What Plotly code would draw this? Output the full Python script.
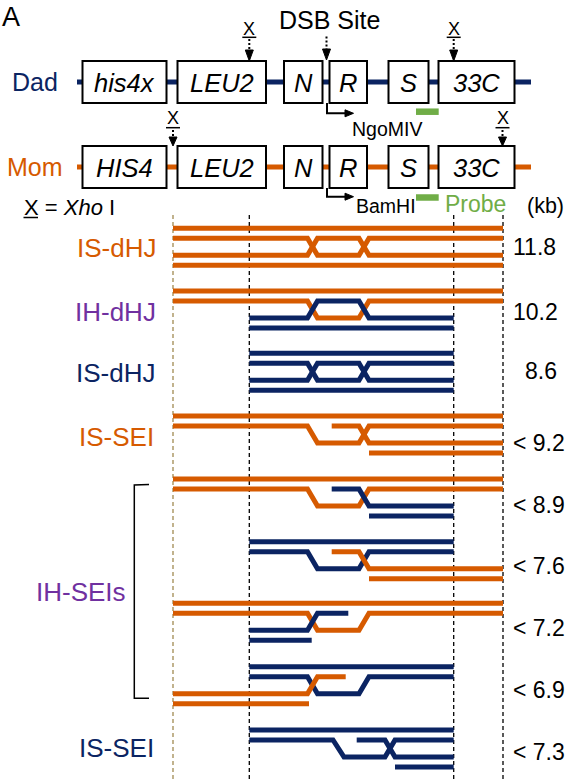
import plotly.graph_objects as go

W, H = 572, 780
ORANGE = "#D65A00"
BLUE = "#0B2462"
PURPLE = "#7030A0"
GREEN = "#70AD47"
TAN = "#A08A52"
FONT = "Liberation Sans, Arial, Helvetica, sans-serif"
COL = {"o": ORANGE, "b": BLUE}

# ---------------- top: parental chromosome maps ----------------
row_names = ["Dad", "Mom"]
row_y = [82, 167]
row_colors = [BLUE, ORANGE]
genes_dad = ["his4x", "LEU2", "N", "R", "S", "33C"]
genes_mom = ["HIS4", "LEU2", "N", "R", "S", "33C"]
gene_x0 = [82.5, 177.5, 284.0, 329.5, 388.5, 438.5]
gene_x1 = [166.5, 266.0, 322.5, 367.0, 428.5, 514.5]
chrom_span = [77, 531]
box_half = 21

# XhoI sites (x position, row index)
xho_x = [249.3, 453.7, 173.0, 502.5]
xho_row = [0, 0, 1, 1]
dsb_x = 326.5
site_names = ["NgoMIV", "BamHI"]
site_x = 327.0
probe_x = [416.0, 438.7]

# ---------------- bottom: joint molecules ----------------
species = ["IS-dHJ", "IH-dHJ", "IS-dHJ", "IS-SEI", "IH-SEIs", "IS-SEI"]
species_colors = [ORANGE, PURPLE, BLUE, ORANGE, PURPLE, BLUE]
species_label_x = [158, 158, 157, 156, 128, 156]
species_label_y = [248, 312, 373, 437, 592, 748]
sizes_kb = ["11.8", "10.2", "8.6", "< 9.2", "< 8.9", "< 7.6", "< 7.2", "< 6.9", "< 7.3"]
size_x = [511, 511, 523, 511, 511, 511, 511, 511, 511]
size_y = [247.3, 311.7, 371, 442.7, 505, 566, 628.3, 690, 752.3]
group_top = [228.3, 291.0, 353.3, 416.0, 479.0, 541.7, 603.3, 666.7, 730.0]
strand_offset = [0, 10, 27, 37]

# XhoI fragment ends and crossing positions (diagram x coordinates)
MOM_L, DAD_L, DAD_R, MOM_R = 173.0, 249.3, 453.7, 503.0
XA, XB = 307.5, 317.5     # left crossing
XC, XD = 359.0, 369.0     # right crossing
INV = 331.7               # invading 3' end
YA, YB, YC, YD = 333.0, 344.0, 385.0, 395.0   # Dad IS-SEI crossings
YINV = 356.7

is_dhj_mom = [("o", [(MOM_L, 0), (MOM_R, 0)]),
              ("o", [(MOM_L, 1), (XA, 1), (XB, 2), (XC, 2), (XD, 1), (MOM_R, 1)]),
              ("o", [(MOM_L, 2), (XA, 2), (XB, 1), (XC, 1), (XD, 2), (MOM_R, 2)]),
              ("o", [(MOM_L, 3), (MOM_R, 3)])]
ih_dhj = [("o", [(MOM_L, 0), (MOM_R, 0)]),
          ("o", [(MOM_L, 1), (XA, 1), (XB, 2), (XC, 2), (XD, 1), (MOM_R, 1)]),
          ("b", [(DAD_L, 2), (XA, 2), (XB, 1), (XC, 1), (XD, 2), (DAD_R, 2)]),
          ("b", [(DAD_L, 3), (DAD_R, 3)])]
is_dhj_dad = [("b", [(DAD_L, 0), (DAD_R, 0)]),
              ("b", [(DAD_L, 1), (XA, 1), (XB, 2), (XC, 2), (XD, 1), (DAD_R, 1)]),
              ("b", [(DAD_L, 2), (XA, 2), (XB, 1), (XC, 1), (XD, 2), (DAD_R, 2)]),
              ("b", [(DAD_L, 3), (DAD_R, 3)])]
is_sei_mom = [("o", [(MOM_L, 0), (MOM_R, 0)]),
              ("o", [(MOM_L, 1), (XA, 1), (XB, 2), (XC, 2), (XD, 1), (MOM_R, 1)]),
              ("o", [(INV, 1), (XC, 1), (XD, 2), (MOM_R, 2)]),
              ("o", [(XD, 3), (MOM_R, 3)])]
ih_sei_1 = [("o", [(MOM_L, 0), (MOM_R, 0)]),
            ("o", [(MOM_L, 1), (XA, 1), (XB, 2), (XC, 2), (XD, 1), (MOM_R, 1)]),
            ("b", [(INV, 1), (XC, 1), (XD, 2), (DAD_R, 2)]),
            ("b", [(XD, 3), (DAD_R, 3)])]
ih_sei_2 = [("b", [(DAD_L, 0), (DAD_R, 0)]),
            ("b", [(DAD_L, 1), (XA, 1), (XB, 2), (XC, 2), (XD, 1), (DAD_R, 1)]),
            ("o", [(INV, 1), (XC, 1), (XD, 2), (MOM_R, 2)]),
            ("o", [(XD, 3), (MOM_R, 3)])]
ih_sei_3 = [("o", [(MOM_L, 0), (MOM_R, 0)]),
            ("o", [(MOM_L, 1), (XA, 1), (XB, 2), (XC, 2), (XD, 1), (MOM_R, 1)]),
            ("b", [(DAD_L, 2), (XA, 2), (XB, 1), (348.3, 1)]),
            ("b", [(DAD_L, 3), (311.7, 3)])]
ih_sei_4 = [("b", [(DAD_L, 0), (DAD_R, 0)]),
            ("b", [(DAD_L, 1), (XA, 1), (XB, 2), (XC, 2), (XD, 1), (DAD_R, 1)]),
            ("o", [(MOM_L, 2), (XA, 2), (XB, 1), (345.7, 1)]),
            ("o", [(MOM_L, 3), (309.0, 3)])]
is_sei_dad = [("b", [(DAD_L, 0), (DAD_R, 0)]),
              ("b", [(DAD_L, 1), (YA, 1), (YB, 2), (YC, 2), (YD, 1), (DAD_R, 1)]),
              ("b", [(YINV, 1), (YC, 1), (YD, 2), (DAD_R, 2)]),
              ("b", [(YD, 3), (DAD_R, 3)])]
molecules = [is_dhj_mom, ih_dhj, is_dhj_dad, is_sei_mom, ih_sei_1,
             ih_sei_2, ih_sei_3, ih_sei_4, is_sei_dad]

fig = go.Figure()
shapes = []
ann = []


def add_line(xs, ys, color, width, dash=None):
    fig.add_trace(go.Scatter(x=xs, y=ys, mode="lines",
                             line=dict(color=color, width=width, dash=dash),
                             hoverinfo="skip", showlegend=False))


def add_text(x, y, text, size, color="black", xanchor="center", yanchor="middle"):
    ann.append(dict(x=x, y=y, xref="x", yref="y", text=text, showarrow=False,
                    xanchor=xanchor, yanchor=yanchor,
                    font=dict(family=FONT, size=size, color=color)))


# dashed guide lines (XhoI fragment ends)
for gx, gc in zip([MOM_L, DAD_L, DAD_R, MOM_R], [TAN, "black", "black", "black"]):
    add_line([gx, gx], [215, 780], gc, 1.3, "4px,3px")

# chromosome lines
for r, (ry, rc) in enumerate(zip(row_y, row_colors)):
    add_line(chrom_span, [ry, ry], rc, 5)
    add_text(60 if r == 0 else 65, ry, row_names[r], 25, rc, "right")
    names = genes_dad if r == 0 else genes_mom
    for x0, x1, nm in zip(gene_x0, gene_x1, names):
        shapes.append(dict(type="rect", xref="x", yref="y", x0=x0, x1=x1,
                           y0=ry - box_half, y1=ry + box_half,
                           line=dict(color="black", width=2), fillcolor="white",
                           layer="above"))
        add_text((x0 + x1) / 2, ry + 1, "<i>%s</i>" % nm, 25.5)

# XhoI markers
for sx, sr in zip(xho_x, xho_row):
    top = row_y[sr] - box_half
    if sr == 0:
        ty, uy, d0, d1 = top - 32.5, top - 23.7, top - 22, top - 11
    else:
        ty, uy, d0, d1 = top - 28.5, top - 18.3, top - 16, top - 9
    add_text(sx, ty, "X", 18)
    add_line([sx - 7, sx + 7], [uy, uy], "black", 1.5)
    add_line([sx, sx], [d0, d1], "black", 2, "2px,2px")
    fig.add_trace(go.Scatter(x=[sx - 4, sx + 4, sx, sx - 4], y=[d1, d1, top, d1],
                             mode="lines", fill="toself", fillcolor="black",
                             line=dict(color="black", width=1),
                             hoverinfo="skip", showlegend=False))

# DSB site arrow
top = row_y[0] - box_half
add_text(329, 20, "DSB Site", 25)
add_line([dsb_x, dsb_x], [36.5, 49], "black", 2, "2px,2px")
fig.add_trace(go.Scatter(x=[dsb_x - 4, dsb_x + 4, dsb_x, dsb_x - 4], y=[49, 49, top - 1, 49],
                         mode="lines", fill="toself", fillcolor="black",
                         line=dict(color="black", width=1),
                         hoverinfo="skip", showlegend=False))

# restriction-site bent arrows, probe bars
bend_y = [113.3, 196.7]
site_label_x = [350, 354]
site_label_y = [128.5, 206]
probe_y = [111.7, 197.5]
for r in range(2):
    bot = row_y[r] + box_half
    add_line([site_x, site_x, 346], [bot, bend_y[r], bend_y[r]], "black", 2)
    fig.add_trace(go.Scatter(x=[345, 345, 353.5, 345], y=[bend_y[r] - 3.5, bend_y[r] + 3.5, bend_y[r], bend_y[r] - 3.5],
                             mode="lines", fill="toself", fillcolor="black",
                             line=dict(color="black", width=1),
                             hoverinfo="skip", showlegend=False))
    add_text(site_label_x[r], site_label_y[r], site_names[r], 19.5, "black", "left")
    add_line(probe_x, [probe_y[r], probe_y[r]], GREEN, 6.5)

add_text(443, 204, "Probe", 23, GREEN, "left")
add_text(525, 206, "(kb)", 21.5, "black", "left")
add_text(22, 207, "X = <i>Xho</i> I", 22, "black", "left")
add_line([23.5, 38], [217.5, 217.5], "black", 1.5)

# joint molecules
for mol, gtop in zip(molecules, group_top):
    for c, pts in mol:
        xs = [p[0] for p in pts]
        ys = [gtop + strand_offset[p[1]] for p in pts]
        add_line(xs, ys, COL[c], 5)

for lab, lc, lx, ly in zip(species, species_colors, species_label_x, species_label_y):
    add_text(lx, ly, lab, 26, lc, "right")
for s, sx, sy in zip(sizes_kb, size_x, size_y):
    add_text(sx, sy, s, 23, "black", "left")

# bracket for IH-SEIs
add_line([149, 134.3, 134.3, 149], [484.5, 485, 698.3, 698.3], "black", 1.5)

# panel letter (kept fully inside the page)
add_text(0, 0, "A", 27, "black", "left", "top")

fig.update_layout(
    width=W, height=H, margin=dict(l=0, r=0, t=0, b=0),
    paper_bgcolor="white", plot_bgcolor="white",
    xaxis=dict(range=[0, W], visible=False, fixedrange=True),
    yaxis=dict(range=[H, 0], visible=False, fixedrange=True),
    shapes=shapes, annotations=ann, showlegend=False,
)
fig.write_html("out.html", config={"displayModeBar": False},
               post_script="document.body.style.margin='0';document.body.style.overflow='hidden';")
